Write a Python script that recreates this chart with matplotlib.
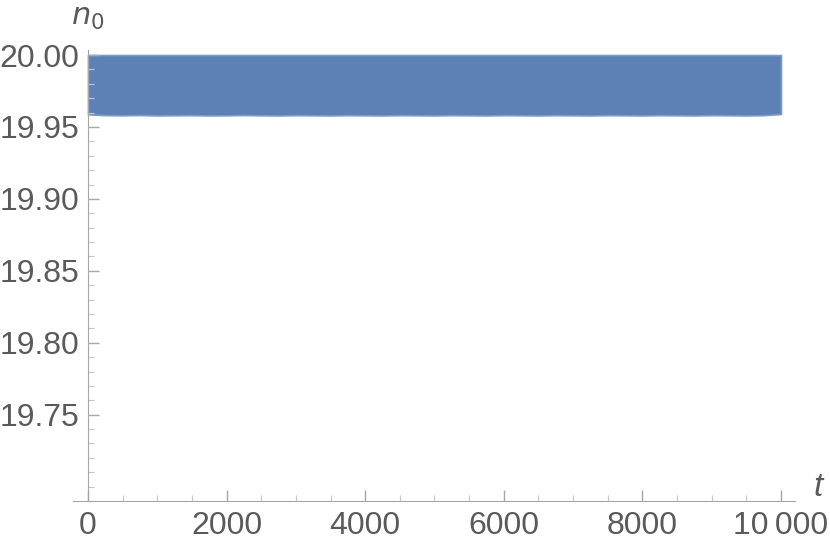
import numpy as np
import matplotlib.pyplot as plt
from matplotlib.ticker import MultipleLocator, FuncFormatter

# envelope of the fast oscillation of n0(t)
t_env = [0, 250, 500, 750, 1000, 1250, 1500, 1750, 2000, 2250, 2500, 2750, 3000, 3250, 3500, 3750,
         4000, 4250, 4500, 4750, 5000, 5250, 5500, 5750, 6000, 6250, 6500, 6750, 7000, 7250, 7500,
         7750, 8000, 8250, 8500, 8750, 9000, 9250, 9500, 9750, 10000]
n0_upper = [20.000] * 41
n0_lower = [19.9588, 19.9582, 19.9581, 19.9583, 19.9580, 19.9581, 19.9582, 19.9580, 19.9581, 19.9583,
            19.9581, 19.9580, 19.9582, 19.9581, 19.9580, 19.9582, 19.9581, 19.9580, 19.9582, 19.9581,
            19.9580, 19.9582, 19.9581, 19.9580, 19.9582, 19.9581, 19.9580, 19.9582, 19.9581, 19.9580,
            19.9582, 19.9581, 19.9580, 19.9582, 19.9581, 19.9580, 19.9582, 19.9581, 19.9580, 19.9582,
            19.9590]

x_major = [0, 2000, 4000, 6000, 8000, 10000]
y_major = [19.75, 19.80, 19.85, 19.90, 19.95, 20.00]

plt.rcParams['font.family'] = ['Liberation Sans', 'DejaVu Sans']

W, H = 830, 549
fig = plt.figure(figsize=(W / 100, H / 100), dpi=100)
ax = fig.add_axes([73 / W, (H - 501) / H, (795 - 73) / W, (501 - 50) / H])

ax.fill_between(t_env, n0_lower, n0_upper, facecolor='#5E81B5', lw=1.2,
                edgecolor='#7d9bc9')

ax.set_xlim(-216, 10202)
ax.set_ylim(19.69, 20.0035)

axis_col = '#a6a6a6'
txt_col = '#5a5a5a'
for s in ['top', 'right']:
    ax.spines[s].set_visible(False)
ax.spines['left'].set_position(('data', 0))
ax.spines['left'].set_color(axis_col)
ax.spines['bottom'].set_color(axis_col)

ax.set_xticks(x_major)
ax.set_yticks(y_major)
ax.xaxis.set_minor_locator(MultipleLocator(500))
ax.yaxis.set_minor_locator(MultipleLocator(0.01))


def fmt_x(v, p):
    v = int(v)
    if v >= 10000:
        return '{:,}'.format(v).replace(',', '\u2009')
    return str(v)


ax.xaxis.set_major_formatter(FuncFormatter(fmt_x))
ax.yaxis.set_major_formatter(FuncFormatter(lambda v, p: '%.2f' % v))

ax.tick_params(which='both', direction='in', colors=axis_col, labelcolor=txt_col,
               labelsize=23)
ax.tick_params(which='major', length=8, width=1)
ax.tick_params(which='minor', length=4.5, width=0.8, color='#c8c8c8')
ax.tick_params(axis='x', pad=7)
ax.tick_params(axis='y', pad=6)

fig.text(88 / W, 1 - 17 / H, r'$n_0$', fontsize=22, color=txt_col,
         ha='center', va='center', math_fontfamily='dejavusans')
fig.text(818 / W, 1 - 488 / H, 't', fontsize=24, color=txt_col, style='italic',
         ha='center', va='center')

fig.savefig('out.png', dpi=100)
